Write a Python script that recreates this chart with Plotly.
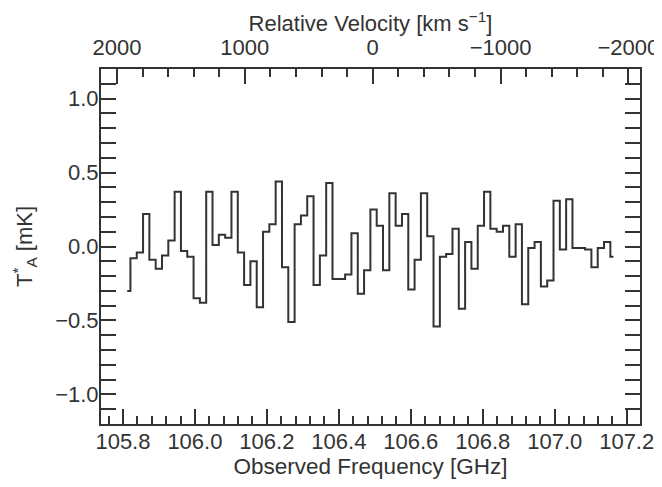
import numpy as np
import plotly.graph_objects as go

# Spectrum: antenna temperature per channel (mK)
t_a = [-0.30, -0.08, -0.04, 0.22, -0.09, -0.15, -0.06, 0.04, 0.37, -0.03,
       -0.07, -0.35, -0.38, 0.37, 0.01, 0.08, 0.06, 0.37, -0.04, -0.26,
       -0.10, -0.41, 0.10, 0.15, 0.44, -0.14, -0.51, 0.15, 0.21, 0.34,
       -0.26, -0.06, 0.43, -0.22, -0.22, -0.19, 0.09, -0.32, -0.16, 0.25,
       0.14, -0.16, 0.36, 0.14, 0.22, -0.29, -0.09, 0.36, 0.07, -0.54,
       -0.07, -0.05, 0.12, -0.42, 0.03, -0.15, 0.14, 0.37, 0.12, 0.10,
       0.14, -0.07, 0.15, -0.39, -0.01, 0.03, -0.27, -0.23, 0.31, -0.02,
       0.32, -0.01, -0.01, -0.02, -0.14, -0.01, 0.03, -0.07]

# channel grid (GHz)
f_start = 105.812
chan_width = 0.01755
freq = f_start + chan_width * np.arange(len(t_a))

freq_range = [105.739, 107.237]
vel_range = [2125, -2091]
y_range = [-1.2, 1.2]

INK = "#333333"
FONT = "Liberation Sans, Arial, sans-serif"

fig = go.Figure()
fig.add_trace(go.Scatter(
    x=freq, y=t_a, mode="lines", line=dict(shape="hvh", color=INK, width=2),
    showlegend=False, hoverinfo="skip"))
# carrier for the top (velocity) axis
fig.add_trace(go.Scatter(
    x=vel_range, y=[None, None], xaxis="x2", mode="lines",
    showlegend=False, hoverinfo="skip"))

# the page body has an 8px default margin, so the figure is 8px smaller
fig.update_layout(
    width=654, height=479,
    margin=dict(l=93, r=22, t=61, b=63),
    paper_bgcolor="white", plot_bgcolor="white",
    font=dict(family=FONT, size=22, color=INK),
    xaxis=dict(
        range=freq_range, showgrid=False, zeroline=False, automargin=False,
        showline=True, linecolor=INK, linewidth=2, mirror=False,
        ticks="inside", ticklen=15, tickwidth=1.5, tickcolor=INK,
        tick0=105.8, dtick=0.2, tickformat=".1f",
        minor=dict(ticks="inside", ticklen=8, tickwidth=1.5, tickcolor=INK, dtick=0.04, tick0=105.8),
        ticklabelstandoff=-3,
        title=dict(text="Observed Frequency [GHz]", font=dict(size=22.5), standoff=2),
    ),
    xaxis2=dict(
        overlaying="x", side="top", range=vel_range, showgrid=False, zeroline=False,
        automargin=False,
        showline=True, linecolor=INK, linewidth=2,
        ticks="inside", ticklen=15, tickwidth=1.5, tickcolor=INK,
        tick0=0, dtick=1000, tickformat="d",
        minor=dict(ticks="inside", ticklen=8, tickwidth=1.5, tickcolor=INK, dtick=200, tick0=0),
        ticklabelstandoff=3,
        title=dict(text="Relative Velocity [km s<sup>−1</sup>]", font=dict(size=22), standoff=8),
    ),
    yaxis=dict(
        range=y_range, showgrid=False, zeroline=False, automargin=False,
        showline=True, linecolor=INK, linewidth=2, mirror="allticks",
        ticks="inside", ticklen=15, tickwidth=1.5, tickcolor=INK,
        tick0=0, dtick=0.5, tickformat=".1f",
        minor=dict(ticks="inside", ticklen=8, tickwidth=1.5, tickcolor=INK, dtick=0.1, tick0=0),
        ticklabelstandoff=-4,
        title=dict(text="T<sup>*</sup><sub>A</sub> [mK]", font=dict(size=22), standoff=16),
    ),
)

fig.write_html("out.html")
